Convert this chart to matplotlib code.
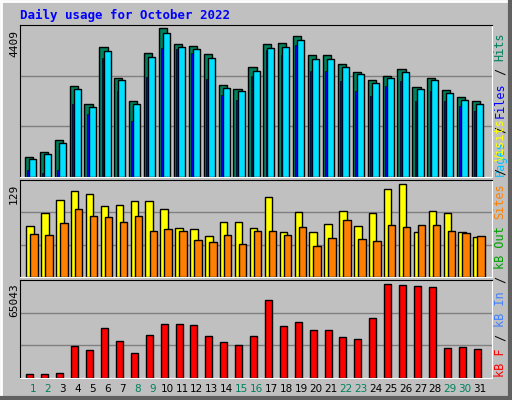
import matplotlib
matplotlib.use("Agg")
import matplotlib.pyplot as plt
import numpy as np

days = list(range(1, 32))
weekend = [1, 2, 8, 9, 15, 16, 22, 23, 29, 30]
hits = [600,750,1080,2700,2160,3840,2940,2250,3660,4409,3930,3870,3630,2730,2610,3240,3930,3960,4170,3600,3600,3330,3120,2880,3000,3210,2670,2940,2580,2370,2250]
files = [530,690,1000,2600,2060,3740,2860,2150,3560,4260,3840,3780,3530,2640,2530,3150,3830,3860,4050,3500,3500,3240,3040,2790,2920,3110,2590,2860,2500,2290,2170]
pages = [210,120,210,2160,1860,3510,2550,1650,2970,3810,3780,3660,2910,2430,2280,3000,3750,3600,3900,3150,3150,2850,2550,2400,2700,2850,2250,2550,2250,2100,1950]
visits = [70,88,106,118,114,97,99,104,104,93,67,66,56,75,75,67,110,62,89,62,73,91,70,88,121,128,62,91,88,62,55]
sites = [59,58,74,93,84,82,75,84,63,66,63,51,48,58,45,63,63,58,69,43,54,78,52,49,71,69,71,71,63,60,56]
kbytes = [2800,2800,3500,21700,18900,34300,25200,16800,29400,37100,37100,36400,28700,24500,22400,28700,53100,35700,38500,32900,32900,28000,26600,41300,64300,63600,62900,62200,20300,21000,19600]
max_hits, max_visits, max_kb = 4409, 129, 65043

W, H = 512, 400
fig = plt.figure(figsize=(W/100, H/100), dpi=100)
fig.patch.set_facecolor("#C0C0C0")
bg = fig.add_axes([0, 0, 1, 1]); bg.set_xlim(0, W); bg.set_ylim(H, 0); bg.axis("off")
bg.plot([1, W-1], [1, 1], color="white", lw=2); bg.plot([1, 1], [1, H-1], color="white", lw=2)
bg.plot([1, W-1], [H-2, H-2], color="#606060", lw=3); bg.plot([W-2, W-2], [1, H-1], color="#606060", lw=3)
mono = "DejaVu Sans Mono"
bg.text(20, 15, "Daily usage for October 2022", color="#0000FF", fontsize=9, fontweight="bold", family=mono, va="center")

def panel(y0, y1):
    ax = fig.add_axes([20/W, 1-y1/H, 472/W, (y1-y0)/H])
    ax.set_facecolor("#C0C0C0")
    ax.set_xlim(0.13, 31.8)
    ax.set_xticks([]); ax.set_yticks([])
    for s in ["left", "top"]:
        ax.spines[s].set_color("black")
    for s in ["right", "bottom"]:
        ax.spines[s].set_color("white")
    return ax

ek = dict(edgecolor="black", linewidth=1)
ax1 = panel(25, 177); ax1.set_ylim(0, max_hits*1.02)
for g in (1/3, 2/3): ax1.axhline(max_hits*1.02*g, color="#808080", lw=1, zorder=0)
ax1.bar(np.array(days)-0.27, hits, width=0.55, color="#00805C", **ek)
ax1.bar(np.array(days)-0.03, files, width=0.47, color="#00E0FF", **ek)
ax1.bar(np.array(days)-0.33, pages, width=0.12, color="#0000E0", edgecolor="black", linewidth=0.5)

ax2 = panel(180, 277); ax2.set_ylim(0, max_visits*1.03)
for g in (1/3, 2/3): ax2.axhline(max_visits*1.03*g, color="#808080", lw=1, zorder=0)
ax2.bar(np.array(days)-0.2, visits, width=0.5, color="#FFFF00", **ek)
ax2.bar(np.array(days)+0.07, sites, width=0.5, color="#FF8000", **ek)

ax3 = panel(280, 378); ax3.set_ylim(0, max_kb*1.03)
for g in (1/3, 2/3): ax3.axhline(max_kb*1.03*g, color="#808080", lw=1, zorder=0)
ax3.bar(np.array(days)-0.2, kbytes, width=0.47, color="#FF0000", **ek)

bg.text(14, 30, str(max_hits), rotation=90, family=mono, fontsize=8, ha="center", va="top")
bg.text(14, 184, str(max_visits), rotation=90, family=mono, fontsize=8, ha="center", va="top")
bg.text(14, 283, str(max_kb), rotation=90, family=mono, fontsize=8, ha="center", va="top")

for d in days:
    x = 20 + (d - 0.13) / (31.8 - 0.13) * 472
    bg.text(x, 389, str(d), ha="center", va="center", fontsize=7.5, color="#00805C" if d in weekend else "black")

CW = 7.2
def vlabel(y_bottom, parts):
    y = y_bottom
    for txt, col in parts:
        if txt.strip():
            lead = len(txt) - len(txt.lstrip())
            bg.text(500, y - lead*CW, txt.strip(), rotation=90, family=mono, fontsize=8.6,
                    color=col, ha="center", va="bottom")
        y -= len(txt) * CW

vlabel(176, [("Pages", "#00C0FF"), (" / ", "#000000"), ("Files", "#0000FF"), (" / ", "#000000"), ("Hits", "#00805C")])
vlabel(377, [("kB F", "#FF0000"), (" / ", "#000000"), ("kB In", "#4080FF"), (" / ", "#000000"), ("kB Out", "#00A000"), (" ", "#000000"), ("Sites", "#FF8000"), (" / ", "#000000"), ("Visits", "#FFFF00")])

fig.savefig("out.png", dpi=100, facecolor=fig.get_facecolor())
